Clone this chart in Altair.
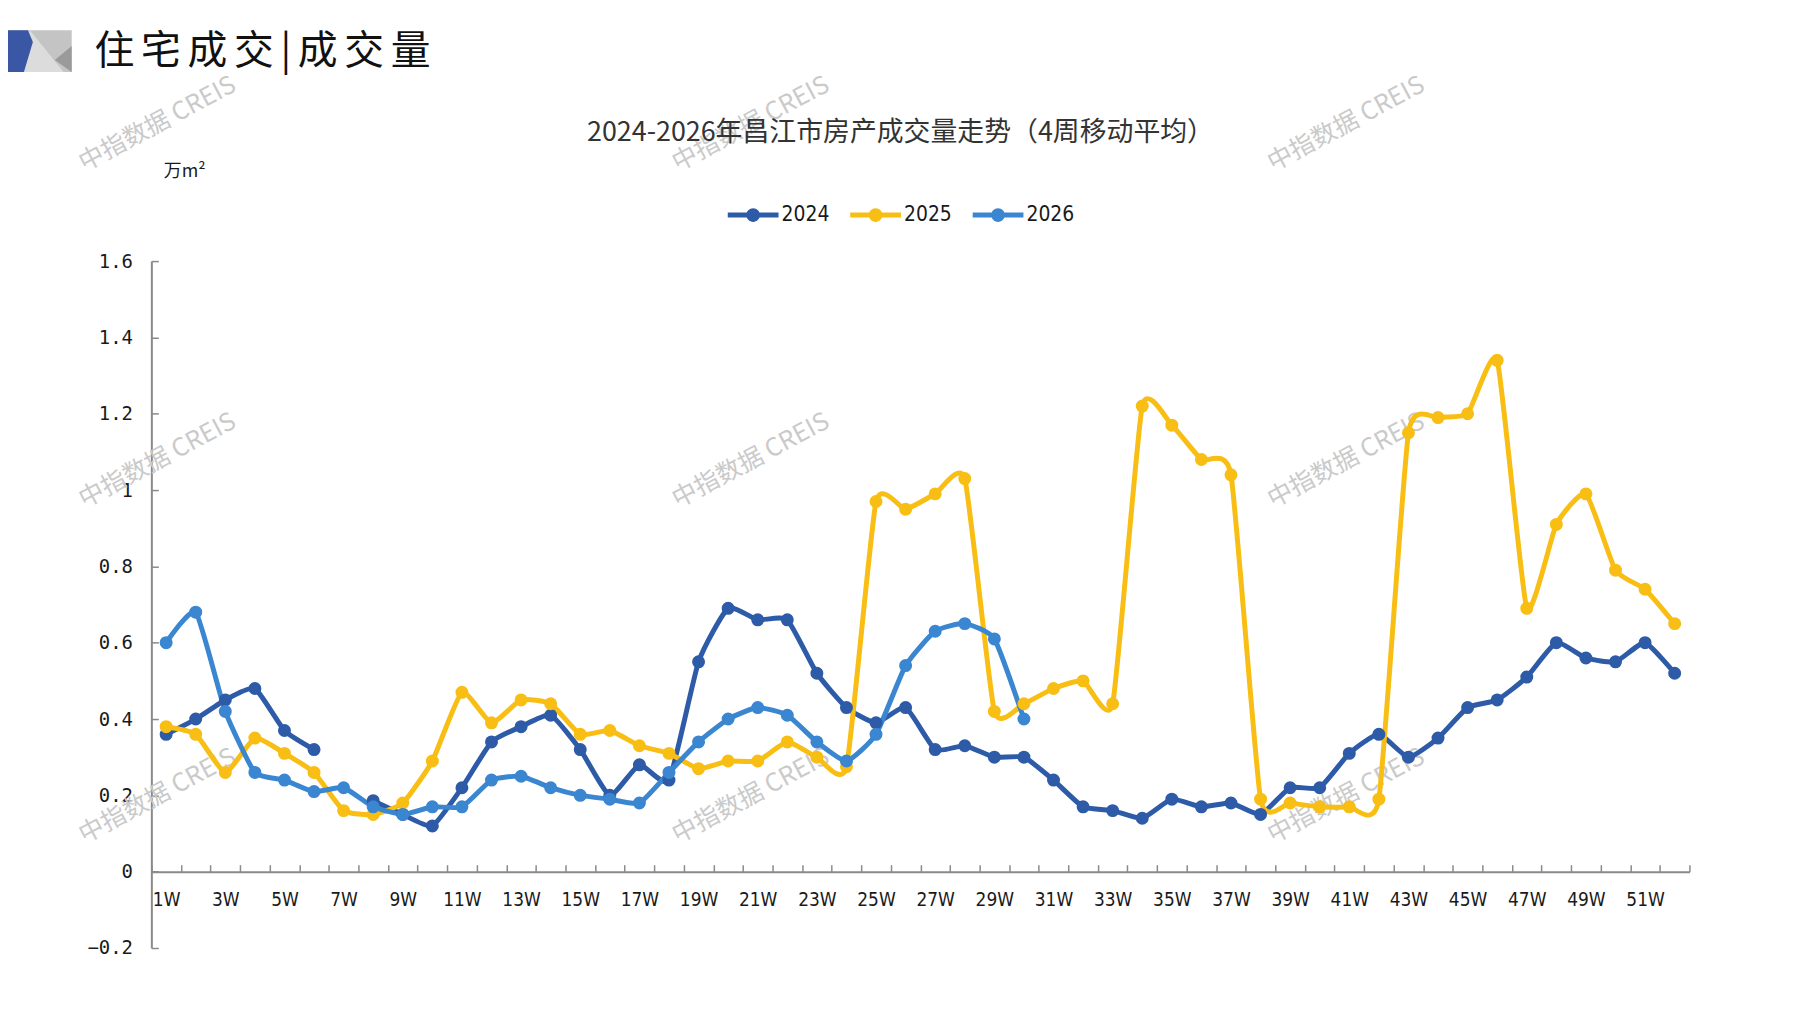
import altair as alt
import pandas as pd

# weekly 4-week moving average, 万m²
weeks = list(range(1, 53))
years = ["2024", "2025", "2026"]
sales_2024 = [0.36, 0.40, 0.45, 0.48, 0.37, 0.32, None, 0.186, 0.15, 0.12,
              0.22, 0.34, 0.38, 0.41, 0.32, 0.20, 0.28, 0.24, 0.55, 0.69,
              0.66, 0.66, 0.52, 0.43, 0.39, 0.43, 0.32, 0.33, 0.30, 0.30,
              0.24, 0.17, 0.16, 0.14, 0.19, 0.17, 0.18, 0.15, 0.22, 0.22,
              0.31, 0.36, 0.30, 0.35, 0.43, 0.45, 0.51, 0.60, 0.56, 0.55,
              0.60, 0.52]
sales_2025 = [0.38, 0.36, 0.26, 0.35, 0.31, 0.26, 0.16, 0.15, 0.18, 0.29,
              0.47, 0.39, 0.45, 0.44, 0.36, 0.37, 0.33, 0.31, 0.27, 0.29,
              0.29, 0.34, 0.30, 0.275, 0.97, 0.95, 0.99, 1.03, 0.42, 0.44,
              0.48, 0.50, 0.44, 1.22, 1.17, 1.08, 1.04, 0.19, 0.18, 0.17,
              0.17, 0.19, 1.15, 1.19, 1.20, 1.34, 0.69, 0.91, 0.99, 0.79,
              0.74, 0.65]
sales_2026 = [0.60, 0.68, 0.42, 0.26, 0.24, 0.21, 0.22, 0.17, 0.15, 0.17,
              0.17, 0.24, 0.25, 0.22, 0.20, 0.19, 0.18, 0.26, 0.34, 0.40,
              0.43, 0.41, 0.34, 0.29, 0.36, 0.54, 0.63, 0.65, 0.61, 0.40]
y_ticks = [-0.2, 0, 0.2, 0.4, 0.6, 0.8, 1, 1.2, 1.4, 1.6]
colors = ["#2D5BA8", "#F8BE14", "#3A86D0"]

rows = []
for year, values in zip(years, [sales_2024, sales_2025, sales_2026]):
    for w, v in zip(weeks, values):
        rows.append({"week": w, "year": year, "value": v})
df = pd.DataFrame(rows)

W, H = 1545, 690
zero_y = H * 1.6 / 1.8

cjk = "Noto Sans CJK SC"
narrow = "'Liberation Sans Narrow', 'DejaVu Sans Condensed', 'Noto Sans', sans-serif"
grey = "#8a8a8a"

x_enc = alt.X(
    "week:O",
    scale=alt.Scale(type="band", paddingInner=0, paddingOuter=0),
    axis=alt.Axis(
        orient="top", offset=-zero_y, title=None,
        tickBand="extent", tickSize=7, tickColor=grey, tickWidth=1.5,
        domainColor=grey, domainWidth=2,
        labelExpr="datum.value % 2 == 1 ? datum.value + 'W' : ''",
        labelAngle=0, labelBaseline="top", labelPadding=-26,
        labelFont=narrow, labelFontSize=19, labelColor="#1a1a1a",
        labelOverlap=False, labelFlush=False,
    ),
)
y_enc = alt.Y(
    "value:Q",
    scale=alt.Scale(domain=[-0.2, 1.6], nice=False, zero=False),
    axis=alt.Axis(
        orient="right", offset=-W, values=y_ticks, format="~g",
        tickSize=7, tickColor=grey, tickWidth=1.5,
        domainColor=grey, domainWidth=2, grid=False,
        labelAlign="right", labelBaseline="middle", labelPadding=-26,
        labelFont="'DejaVu Sans Mono', 'Liberation Mono', monospace",
        labelFontSize=19, labelColor="#1a1a1a",
        title="万m²", titleAngle=0, titleX=33, titleY=-90,
        titleAlign="center", titleBaseline="middle",
        titleFont=cjk, titleFontSize=18, titleFontWeight="normal",
        titleColor="#1a1a1a",
    ),
)

# legend symbol: a short thick line with a dot, all filled
legend_symbol = ("M-1,-0.1L1,-0.1L1,0.1L-1,0.1Z"
                 "M0.27,0A0.27,0.27,0,1,1,-0.27,0"
                 "A0.27,0.27,0,1,1,0.27,0Z")
leg = alt.Legend(
    title=None, orient="none", legendX=579, legendY=-72,
    direction="horizontal", symbolType=legend_symbol, symbolSize=2601,
    symbolStrokeWidth=0, labelFont=narrow, labelFontSize=21,
    labelColor="#1a1a1a", labelOffset=3, columnPadding=20,
)

base = alt.Chart(df).encode(x=x_enc, y=y_enc)

# lines get their own stroke scale so the points' legend stays on
lines = base.mark_line(
    strokeWidth=5, interpolate="cardinal", tension=0.5,
    invalid="break-paths-filter-domains",
).encode(stroke=alt.Stroke("year:N", scale=alt.Scale(range=colors), legend=None))

points = base.mark_point(
    filled=True, size=170, opacity=1,
).encode(color=alt.Color("year:N", scale=alt.Scale(domain=years, range=colors),
                         legend=leg))


def text_layer(text, x, y, size, color, angle=0, align="center", font=cjk):
    return alt.Chart(pd.DataFrame({"t": [text]})).mark_text(
        align=align, baseline="middle", font=font, fontSize=size,
        color=color, angle=angle,
    ).encode(x=alt.value(x), y=alt.value(y), text="t:N")


# watermark
marks_pos = [(6, -138), (602, -138), (1200, -138),
             (6, 200), (602, 200), (1200, 200),
             (6, 537), (602, 537), (1200, 537)]
watermarks = [text_layer("中指数据 CREIS", px, py, 25, "#cacaca", angle=332,
                         font="'Noto Sans CJK SC', Arial, sans-serif")
              for px, py in marks_pos]

# page header with logo
header = text_layer("住\u2006宅\u2006成\u2006交\u2006|\u2006成\u2006交\u2006量",
                    -57, -210, 40, "#111111", align="left")

one = pd.DataFrame({"a": [0]})
logo_bg = alt.Chart(one).mark_rect(color="#c4c4c4").encode(
    x=alt.value(-144), x2=alt.value(-80), y=alt.value(-232), y2=alt.value(-190)
)


def logo_piece(path, color):
    return alt.Chart(one).mark_point(
        shape=path, size=4096, filled=True, color=color, strokeWidth=0, opacity=1
    ).encode(x=alt.value(-112), y=alt.value(-211))


logo = [
    logo_bg,
    logo_piece("M-0.3125,-0.656L0.75,0.656L-0.625,0.656Z", "#dcdcdc"),
    logo_piece("M1,-0.156L1,0.656L0.469,0.281Z", "#9a9a9a"),
    logo_piece("M-1,-0.656L-0.375,-0.656L-0.219,-0.281L-0.5,0.656L-1,0.656Z",
               "#3A57A6"),
]

chart = alt.layer(*watermarks, lines, points, header, *logo).properties(
    width=W, height=H,
    title=alt.TitleParams(
        "2024-2026年昌江市房产成交量走势（4周移动平均）",
        font=cjk, fontSize=27, fontWeight="normal", color="#333333",
        anchor="middle", dx=-20, offset=-117,
    ),
    autosize=alt.AutoSizeParams(type="none"),
    padding={"left": 144, "top": 252, "right": 100, "bottom": 50},
).configure_view(stroke=None).configure_axis(labelLimit=0)

chart.save("out.html", embed_options={"renderer": "svg", "actions": False})
